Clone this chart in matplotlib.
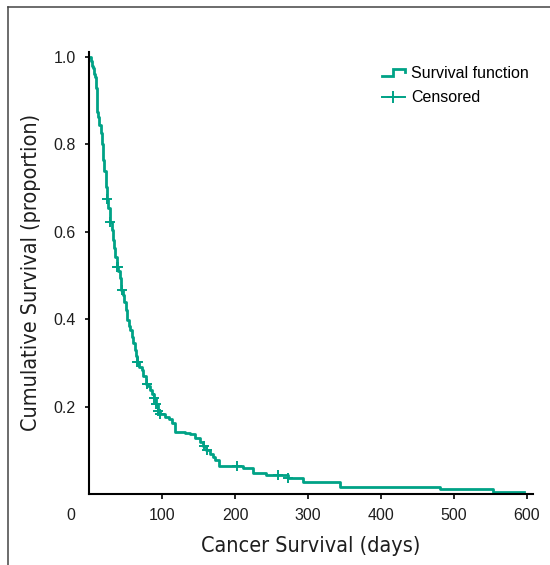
import numpy as np
import matplotlib
matplotlib.use('Agg')
import matplotlib.pyplot as plt
from matplotlib.lines import Line2D
from matplotlib.legend_handler import HandlerBase

################################################
######## DATA ##################################
################################################
# step times (days) and survival proportion after each step
step_days = [0, 2, 4, 5.5, 7, 8, 9, 9.5, 10, 10.5, 11, 11.5, 13, 15.5, 17, 18.4, 20, 22.9,
             24.5, 26, 28, 30.7, 32, 33.5, 35.3, 38, 40, 42, 44, 46, 48, 50, 51.5, 54,
             55.8, 58, 60.4, 62, 64, 65.5, 68, 71.8, 74, 78, 80, 83.3, 86, 88.5, 91, 94.5,
             97, 104, 110, 113, 117.6, 131, 138, 145, 152, 156, 160, 165.6, 169, 172.4,
             178.4, 211, 225, 243, 273, 293.5, 344, 481, 554, 596]
step_surv = [1.0, 0.99, 0.98, 0.974, 0.962, 0.955, 0.944, 0.93, 0.91, 0.89, 0.875, 0.863,
             0.845, 0.825, 0.80, 0.764, 0.74, 0.703, 0.675, 0.655, 0.623, 0.604, 0.581,
             0.562, 0.543, 0.52, 0.51, 0.495, 0.467, 0.455, 0.44, 0.42, 0.398, 0.385,
             0.375, 0.36, 0.345, 0.33, 0.315, 0.303, 0.29, 0.284, 0.27, 0.252, 0.248,
             0.238, 0.228, 0.219, 0.206, 0.19, 0.183, 0.177, 0.171, 0.163, 0.143, 0.14,
             0.137, 0.127, 0.120, 0.11, 0.101, 0.092, 0.085, 0.078, 0.065, 0.059, 0.049,
             0.043, 0.036, 0.028, 0.017, 0.011, 0.005, 0.005]
censor_days = [24.7, 28.4, 38.4, 39.5, 44.4, 65.9, 67, 78.7, 79.5, 88.8, 91.5, 94.7, 97,
               157, 161, 203, 259, 273]

x_ticks = [100, 200, 300, 400, 500, 600]
x_tick_labels = ['100', '200', '300', '400', '500', '600']
y_ticks = [0.2, 0.4, 0.6, 0.8, 1.0]
y_tick_labels = ['0.2', '0.4', '0.6', '0.8', '1.0']

TEAL = '#00a286'
INK = '#1e1e1e'
TICK_FONT = ['Liberation Sans', 'DejaVu Sans']
LABEL_FONT = ['Liberation Sans Narrow', 'DejaVu Sans']


def surv_at(t):
    """survival value of the step function at time t"""
    idx = np.searchsorted(step_days, t, side='right') - 1
    return np.array(step_surv)[idx]


class StepHandler(HandlerBase):
    # little step-shaped legend icon
    def create_artists(self, legend, orig_handle, xdescent, ydescent, width, height,
                       fontsize, trans):
        xs = np.array([0.0, 0.47, 0.47, 1.0, 1.0]) * width - xdescent
        ys = np.array([0.15, 0.15, 0.75, 0.75, 0.5]) * height - ydescent
        line = Line2D(xs, ys, color=TEAL, lw=2.0, solid_joinstyle='miter', transform=trans)
        return [line]


fig = plt.figure(figsize=(5.5, 5.65), dpi=100)
ax = fig.add_axes([89.3 / 550, 1 - 494 / 565, (533 - 89.3) / 550, (494 - 51.7) / 565])

ax.step(step_days, step_surv, where='post', color=TEAL, lw=2.0)
ax.plot(censor_days, surv_at(censor_days), ls='none', marker='+', ms=7, mew=1.4, color=TEAL)

ax.set_xlim(0, 608.6)
ax.set_ylim(0, 1.012)
for side in ['top', 'right']:
    ax.spines[side].set_visible(False)
for side in ['left', 'bottom']:
    ax.spines[side].set_linewidth(1.5)

ax.set_xticks(x_ticks)
ax.set_xticklabels(x_tick_labels, family=TICK_FONT, fontsize=11.5, color=INK)
ax.set_yticks(y_ticks)
ax.set_yticklabels(y_tick_labels, family=TICK_FONT, fontsize=11.5, color=INK)
ax.tick_params(axis='x', length=3.6, width=1.2, pad=6.5)
ax.tick_params(axis='y', length=2.6, width=1.2, pad=7)

# the lonely "0" in the corner
ax.text(-25.5, -0.0497, '0', transform=ax.get_xaxis_transform(), ha='center', va='center',
        family=TICK_FONT, fontsize=11.5, color=INK)

ax.set_xlabel('Cancer Survival (days)', family=LABEL_FONT, fontstretch='condensed',
              fontsize=15.5, color=INK, va='center')
ax.xaxis.set_label_coords(0.5, -0.1176)
ax.set_ylabel('Cumulative Survival (proportion)', family=LABEL_FONT, fontstretch='condensed',
              fontsize=15.5, color=INK, va='center')
ax.yaxis.set_label_coords(-0.1314, 0.5)

h_surv = Line2D([], [], color=TEAL, lw=2.0)
h_cens = Line2D([], [], color=TEAL, lw=1.4, marker='+', ms=8, mew=1.4)
ax.legend([h_surv, h_cens], ['Survival function', 'Censored'],
          handler_map={h_surv: StepHandler()},
          loc='upper left', bbox_to_anchor=(0.659, 0.968), frameon=False,
          prop={'family': TICK_FONT, 'size': 11.5}, handlelength=1.45, handletextpad=0.4,
          labelspacing=0.6, borderpad=0, borderaxespad=0)

# frame around the figure (only top and left edges show)
fig.add_artist(Line2D([8.3 / 550, 8.3 / 550], [0, 1 - 6.7 / 565], color='#444444', lw=1.1,
                      transform=fig.transFigure))
fig.add_artist(Line2D([8.3 / 550, 1], [1 - 6.7 / 565, 1 - 6.7 / 565], color='#444444', lw=1.1,
                      transform=fig.transFigure))

fig.savefig('out.png', dpi=100)
